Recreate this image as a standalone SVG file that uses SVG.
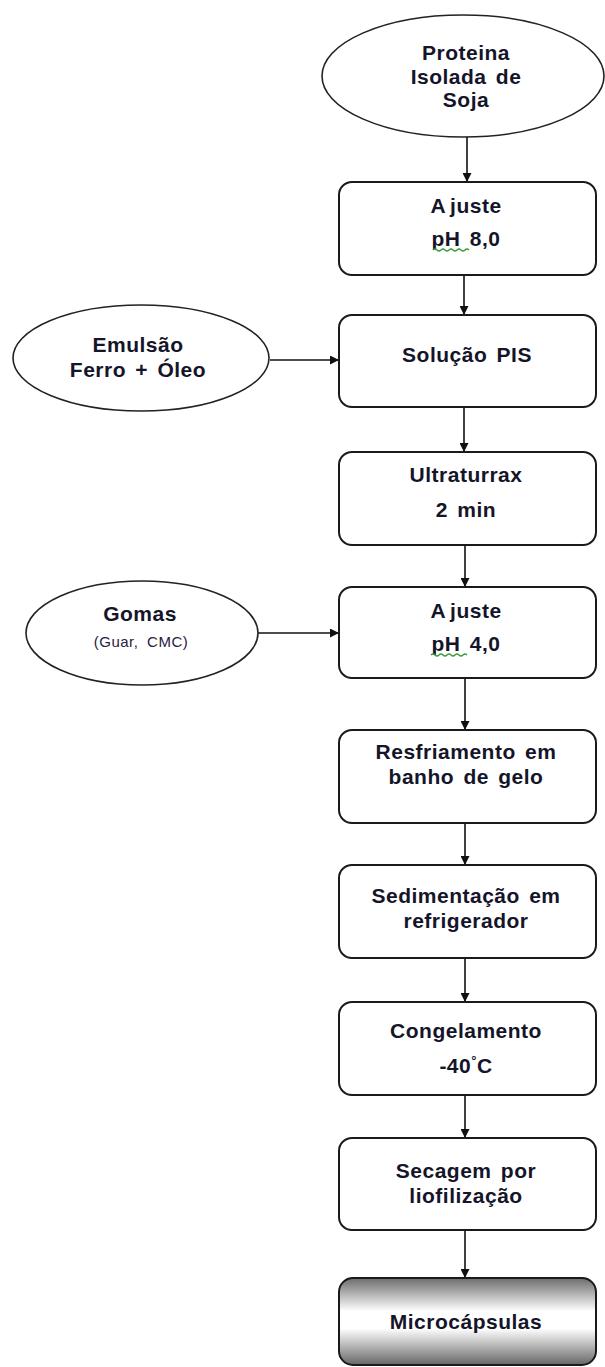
<svg xmlns="http://www.w3.org/2000/svg" width="605" height="1367" viewBox="0 0 605 1367">
<style>
.box{fill:#fff;stroke:#1a1a1a;stroke-width:2}
.ell{fill:#fff;stroke:#222;stroke-width:1.6}
.t{font-family:"Liberation Sans",Arial,sans-serif;font-weight:bold;font-size:21px;fill:#15152a;text-anchor:middle;letter-spacing:0.5px;word-spacing:3px}
.s{font-family:"Liberation Sans",Arial,sans-serif;font-size:15px;fill:#2a2040;text-anchor:middle;letter-spacing:0.5px;word-spacing:4px}
.c line{stroke:#111;stroke-width:1.6;fill:none}
.sq{fill:none;stroke:#3a9a3a;stroke-width:1.3}
</style>
<defs>
<marker id="ah" viewBox="0 0 10 10" refX="10" refY="5" markerWidth="9" markerHeight="9" markerUnits="userSpaceOnUse" orient="auto">
<path d="M0,0 L10,5 L0,10 Z" fill="#111"/>
</marker>
<linearGradient id="gr" x1="0" y1="0" x2="0" y2="1">
<stop offset="0" stop-color="#6c6c6c"/>
<stop offset="0.38" stop-color="#fff"/>
<stop offset="0.58" stop-color="#fff"/>
<stop offset="1" stop-color="#666"/>
</linearGradient>
</defs>
<g class="c" id="connectors">
<line x1="467" y1="137" x2="467" y2="182" marker-end="url(#ah)"/>
<line x1="464" y1="275" x2="464" y2="315" marker-end="url(#ah)"/>
<line x1="464" y1="407" x2="464" y2="452" marker-end="url(#ah)"/>
<line x1="465" y1="545" x2="465" y2="587" marker-end="url(#ah)"/>
<line x1="465" y1="678" x2="465" y2="730" marker-end="url(#ah)"/>
<line x1="465" y1="823" x2="465" y2="865" marker-end="url(#ah)"/>
<line x1="465" y1="958" x2="465" y2="1002" marker-end="url(#ah)"/>
<line x1="465" y1="1095" x2="465" y2="1138" marker-end="url(#ah)"/>
<line x1="465" y1="1230" x2="465" y2="1278" marker-end="url(#ah)"/>
<line x1="270" y1="360" x2="339" y2="360" marker-end="url(#ah)"/>
<line x1="258" y1="633" x2="339" y2="633" marker-end="url(#ah)"/>
</g>
<g id="n-proteina">
<ellipse class="ell" cx="463" cy="76" rx="141" ry="61"/>
<text class="t" x="466" y="60">Proteina</text>
<text class="t" x="466" y="84">Isolada de</text>
<text class="t" x="466" y="107">Soja</text>
</g>
<g id="n-ajuste8">
<rect class="box" x="339" y="182" width="257" height="93" rx="13"/>
<text class="t" x="466" y="213">A<tspan dx="4">juste</tspan></text>
<text class="t" x="466" y="246">pH 8,0</text>
<path class="sq" d="M433,250 q2,-2 4,0 t4,0 t4,0 t4,0 t4,0 t4,0 t4,0 t4,0 t4,0"/>
</g>
<g id="n-emulsao">
<ellipse class="ell" cx="141" cy="358" rx="128" ry="53"/>
<text class="t" x="138" y="352">Emulsão</text>
<text class="t" x="138" y="377">Ferro + Óleo</text>
</g>
<g id="n-solucao">
<rect class="box" x="339" y="315" width="257" height="92" rx="13"/>
<text class="t" x="467" y="362">Solução PIS</text>
</g>
<g id="n-ultraturrax">
<rect class="box" x="339" y="452" width="257" height="93" rx="13"/>
<text class="t" x="466" y="482">Ultraturrax</text>
<text class="t" x="466" y="517">2 min</text>
</g>
<g id="n-gomas">
<ellipse class="ell" cx="142" cy="633" rx="116" ry="52"/>
<text class="t" x="140" y="621">Gomas</text>
<text class="s" x="141" y="647">(Guar, CMC)</text>
</g>
<g id="n-ajuste4">
<rect class="box" x="339" y="587" width="257" height="91" rx="13"/>
<text class="t" x="466" y="618">A<tspan dx="4">juste</tspan></text>
<text class="t" x="466" y="651">pH 4,0</text>
<path class="sq" d="M431,655 q2,-2 4,0 t4,0 t4,0 t4,0 t4,0 t4,0 t4,0 t4,0 t4,0"/>
</g>
<g id="n-resfriamento">
<rect class="box" x="339" y="730" width="257" height="93" rx="13"/>
<text class="t" x="466" y="759">Resfriamento em</text>
<text class="t" x="466" y="784">banho de gelo</text>
</g>
<g id="n-sedimentacao">
<rect class="box" x="339" y="865" width="257" height="93" rx="13"/>
<text class="t" x="466" y="903">Sedimentação em</text>
<text class="t" x="466" y="928">refrigerador</text>
</g>
<g id="n-congelamento">
<rect class="box" x="339" y="1002" width="257" height="93" rx="13"/>
<text class="t" x="466" y="1038">Congelamento</text>
<text class="t" x="466" y="1073">-40<tspan dy="-8" font-size="13">°</tspan><tspan dy="8">C</tspan></text>
</g>
<g id="n-secagem">
<rect class="box" x="339" y="1138" width="257" height="92" rx="13"/>
<text class="t" x="466" y="1178">Secagem por</text>
<text class="t" x="466" y="1203">liofilização</text>
</g>
<g id="n-microcapsulas">
<rect class="box" x="339" y="1278" width="257" height="87" rx="14" fill="url(#gr)" style="fill:url(#gr)"/>
<text class="t" x="466" y="1329">Microcápsulas</text>
</g>
</svg>
